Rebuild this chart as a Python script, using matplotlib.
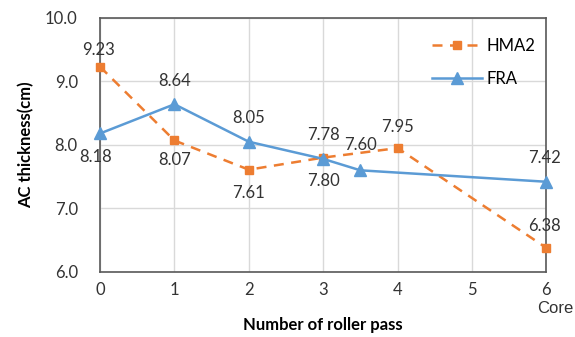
import numpy as np
from matplotlib import pyplot as plt

plt.rcParams['font.family'] = ['Lato', 'DejaVu Sans']

HMA2_X = [0, 1, 2, 3, 4, 6]
HMA2_Y = [9.23, 8.07, 7.61, 7.80, 7.95, 6.38]
FRA_X = [0, 1, 2, 3, 3.5, 6]
FRA_Y = [8.18, 8.64, 8.05, 7.78, 7.60, 7.42]
X_TICKS = [0, 1, 2, 3, 4, 5, 6]
Y_TICKS = [6.0, 7.0, 8.0, 9.0, 10.0]

ORANGE = "#ED7D31"
BLUE = "#5B9BD5"
TXT = "#333333"

fig = plt.figure(figsize=(5.75, 3.37), dpi=100)
ax = fig.add_axes([0.174, 0.193, 0.776, 0.754])

ax.plot(HMA2_X, HMA2_Y, color=ORANGE, linestyle=(0, (4, 3)), linewidth=1.8,
        marker="s", markersize=6, label="HMA2", clip_on=False, zorder=3)
ax.plot(FRA_X, FRA_Y, color=BLUE, linewidth=1.8, marker="^", markersize=8.5,
        label="FRA", clip_on=False, zorder=3)

# label offsets (points) for each data label
hma_off = [(-1, 12), (0, -14), (0, -17), (0, -17), (0, 15), (-1, 16)]
fra_off = [(-3, -17), (0, 17), (0, 17), (0, 17), (0, 18), (-1, 17)]
for x, y, o in zip(HMA2_X, HMA2_Y, hma_off):
    ax.annotate("{0:.2f}".format(y), (x, y), xytext=o, textcoords="offset points",
                ha="center", va="center", fontsize=12, color=TXT)
for x, y, o in zip(FRA_X, FRA_Y, fra_off):
    ax.annotate("{0:.2f}".format(y), (x, y), xytext=o, textcoords="offset points",
                ha="center", va="center", fontsize=12, color=TXT)

ax.set_xlim(0, 6)
ax.set_ylim(6, 10)
ax.set_xticks(X_TICKS)
ax.set_yticks(Y_TICKS)
ax.set_yticklabels(["{0:.1f}".format(v) for v in Y_TICKS])
ax.tick_params(length=0, labelsize=12, labelcolor=TXT)
ax.tick_params(axis="y", pad=16)
ax.tick_params(axis="x", pad=7)
ax.grid(color="#D9D9D9", linewidth=1)
ax.set_axisbelow(True)
for s in ax.spines.values():
    s.set_color("#595959")
    s.set_linewidth(1.2)

ax.set_xlabel("Number of roller pass", fontsize=12, fontweight="bold", labelpad=14)
ax.set_ylabel("AC thickness(cm)", fontsize=12, fontweight="bold", labelpad=8)
ax.text(6.12, 5.42, "Core", fontsize=12, ha="center", va="center",
        family="Liberation Sans", color=TXT)

ax.legend(loc="upper right", frameon=False, fontsize=12, handlelength=3,
          handletextpad=0.3, labelspacing=1.0, bbox_to_anchor=(1.01, 0.98))

fig.savefig("out.png", dpi=100)
